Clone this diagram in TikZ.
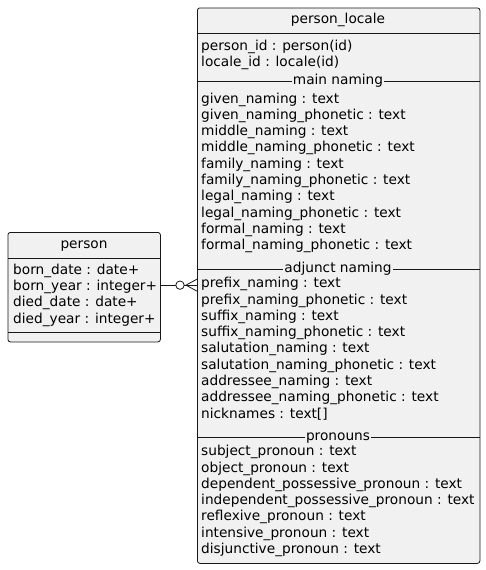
\documentclass[tikz,border=0pt]{standalone}
\usepackage{fontspec}
\setmainfont{DejaVu Sans}
\usetikzlibrary{calc}
\definecolor{boxfill}{HTML}{F1F1F1}
\definecolor{boxline}{HTML}{181818}
\newcommand\erfont{\fontsize{13.7pt}{16pt}\selectfont}
\tikzset{
  entity/.style={draw=boxline,fill=boxfill,line width=0.8pt,rounded corners=2.5pt,
    inner sep=0pt,anchor=north west},
  field/.style={anchor=mid west,inner sep=0pt,font=\erfont},
  title/.style={anchor=mid,inner sep=0pt,font=\erfont},
  group/.style={anchor=mid,fill=boxfill,inner xsep=1pt,inner ysep=0pt,font=\erfont},
  sep/.style={draw=boxline,line width=0.8pt},
  link/.style={draw=boxline,line width=0.8pt},
}

\begin{document}
\begin{tikzpicture}[x=1pt,y=-1pt]
  \useasboundingbox (0,0) rectangle (486,570);
  % the two tables
  \node[entity,minimum width=152.5pt,minimum height=109.5pt] (person) at (7.5,232) {};
  \node[entity,minimum width=282.5pt,minimum height=555.5pt] (locale) at (197,7.5) {};
  \node[title] (person-title) at (84,246) {person};
  \node[title] (locale-title) at (338,21) {person\_locale};
  \draw[sep] (7.5,258) -- (160,258);
  \draw[sep] (7.5,332) -- (160,332);
  \draw[sep] (197,33) -- (479.5,33);

  % person columns
  \foreach \txt [count=\k] in {born\_date : date+, born\_year : integer+,
      died\_date : date+, died\_year : integer+}
    \node[field] (born-\k) at (13,{271.7+16.2*(\k-1)}) {\txt};

  % person_locale columns
  \foreach \txt [count=\k] in {person\_id : person(id), locale\_id : locale(id)}
    \node[field] (key-\k) at (201,{47.5+16.3*(\k-1)}) {\txt};

  \draw[sep] (197,81) -- (479.5,81);
  \node[group] (main) at (338,82) {main naming};
  \foreach \txt [count=\k] in {given\_naming : text, given\_naming\_phonetic : text,
      middle\_naming : text, middle\_naming\_phonetic : text,
      family\_naming : text, family\_naming\_phonetic : text,
      legal\_naming : text, legal\_naming\_phonetic : text,
      formal\_naming : text, formal\_naming\_phonetic : text}
    \node[field] (main-\k) at (201,{100.3+16.3*(\k-1)}) {\txt};

  \draw[sep] (197,269) -- (479.5,269);
  \node[group] (adjunct) at (338,269.5) {adjunct naming};
  \foreach \txt [count=\k] in {prefix\_naming : text, prefix\_naming\_phonetic : text,
      suffix\_naming : text, suffix\_naming\_phonetic : text,
      salutation\_naming : text, salutation\_naming\_phonetic : text,
      addressee\_naming : text, addressee\_naming\_phonetic : text,
      {nicknames : text[]}}
    \node[field] (adjunct-\k) at (201,{285+16.3*(\k-1)}) {\txt};

  \draw[sep] (197,437) -- (479.5,437);
  \node[group] (pronouns) at (338,437.5) {pronouns};
  \foreach \txt [count=\k] in {subject\_pronoun : text, object\_pronoun : text,
      dependent\_possessive\_pronoun : text, independent\_possessive\_pronoun : text,
      reflexive\_pronoun : text, intensive\_pronoun : text,
      disjunctive\_pronoun : text}
    \node[field] (pronoun-\k) at (201,{453+16.3*(\k-1)}) {\txt};

  % zero or many
  \coordinate (cfoot) at ([yshift=2pt]person.east -| locale.west);
  \draw[link] ([yshift=2pt]person.east) -- (cfoot);
  \draw[link] ([yshift=6pt]cfoot) -- ([xshift=-11pt]cfoot) -- ([yshift=-6pt]cfoot);
  \draw[link,fill=white] ([xshift=-17pt]cfoot) circle (4.2pt);
\end{tikzpicture}
\end{document}
